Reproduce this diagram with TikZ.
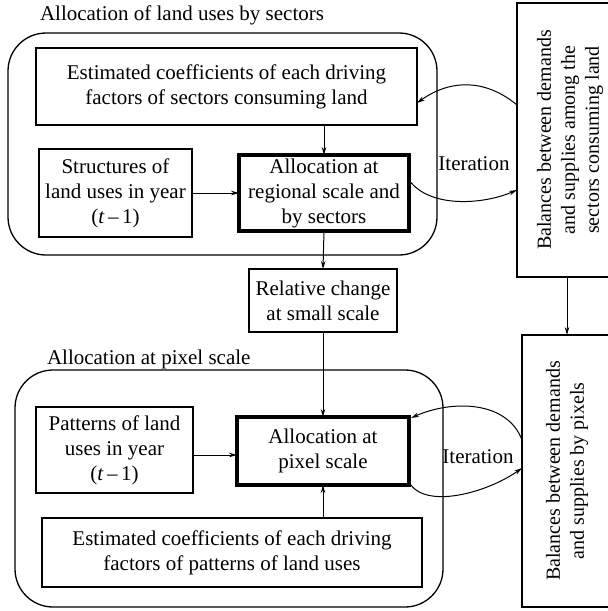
\documentclass[tikz,border=0pt]{standalone}
\usepackage{fontspec}
\setmainfont{Liberation Serif}
\usetikzlibrary{arrows.meta}
\begin{document}
\begin{tikzpicture}[x=1pt,y=-1pt,
  every node/.style={font=\fontsize{21}{25}\selectfont, inner sep=0pt, outer sep=0pt},
  box/.style={draw, line width=1.3pt, align=center},
  boldbox/.style={draw, line width=4pt, align=center},
  group/.style={draw, line width=1.3pt, rounded corners=38pt},
  vtext/.style={font=\fontsize{20}{24}\selectfont},
  arr/.style={line width=1pt, -{Stealth[length=8pt,width=4.5pt]}},
  curv/.style={line width=1pt, -{Stealth[length=8pt,width=4.5pt]}}
]
\useasboundingbox (0,0) rectangle (608,611);
% groups
\node[group, minimum width=429pt, minimum height=222pt] (grp1) at (222.5,144) {};
\node[group, minimum width=428pt, minimum height=237pt] (grp2) at (229,488.5) {};
\node[anchor=base west] (t1) at (40,20) {Allocation of land uses by sectors};
\node[anchor=base west] (t2) at (47,364) {Allocation at pixel scale};
% top
\node[box, minimum width=381pt, minimum height=77pt] (est1) at (226.5,86.5)
  {Estimated coefficients of each driving\\factors of sectors consuming land};
\node[box, minimum width=153pt, minimum height=88pt] (str1) at (115.5,193)
  {Structures of\\land uses in year\\(\textit{t}\,–\,1)};
\node[boldbox, minimum width=170pt, minimum height=76pt] (alloc1) at (324,193)
  {Allocation at\\regional scale and\\by sectors};
\node[box, minimum width=148pt, minimum height=63pt] (rel) at (323,300.5)
  {Relative change\\at small scale};
\node[box, vtext, minimum width=106pt, minimum height=274pt] (bal1) at (570,140)
  {\rotatebox{90}{\begin{tabular}{@{}c@{}}Balances between demands\\and supplies among the\\sectors consuming land\end{tabular}}};
% bottom
\node[box, minimum width=157pt, minimum height=86pt] (pat) at (114.5,450)
  {Patterns of land\\uses in year\\(\textit{t}\,–\,1)};
\node[boldbox, minimum width=172pt, minimum height=68pt] (alloc2) at (323,451)
  {Allocation at\\pixel scale};
\node[box, minimum width=380pt, minimum height=69pt] (est2) at (232,552.5)
  {Estimated coefficients of each driving\\factors of patterns of land uses};
\node[box, vtext, minimum width=90pt, minimum height=272pt] (bal2) at (567,471)
  {\rotatebox{90}{\begin{tabular}{@{}c@{}}Balances between demands\\and supplies by pixels\end{tabular}}};
\node (it1) at (474,164) {Iteration};
\node (it2) at (478,457) {Iteration};
% straight arrows
\draw[arr] (alloc1.north |- est1.south) -- (alloc1.north);
\draw[arr] (str1.east) -- (alloc1.west);
\draw[arr] (alloc1.south) -- (rel.north);
\draw[arr] (rel.south) -- (alloc2.north);
\draw[arr] (pat.east |- {0,455}) -- (alloc2.west |- {0,455});
\draw[arr] (alloc2.south |- est2.north) -- (alloc2.south);
\draw[arr] (bal2.north |- bal1.south) -- (bal2.north);
% iteration curves
\draw[curv] ([yshift=35pt]bal1.west) .. controls +(-30,-25) and +(35,-25) .. ([yshift=-16.5pt]est1.east);
\draw[curv] ([yshift=13pt]alloc1.east) .. controls +(20,28) and +(-35,15) .. ([yshift=-50pt]bal1.west);
\draw[curv] ([yshift=31pt]bal2.west) .. controls +(-15,-40) and +(40,-18) .. ([xshift=2pt,yshift=-1pt]alloc2.north east);
\draw[curv] ([yshift=-31pt]alloc2.east) .. controls +(15,28) and +(-35,25) .. ([yshift=3pt]bal2.west);
\end{tikzpicture}
\end{document}
